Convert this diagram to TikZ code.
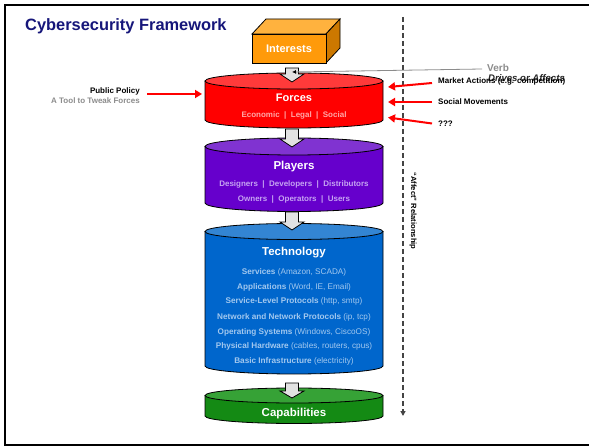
\documentclass[tikz,border=0pt]{standalone}
\usepackage{fontspec}
\setmainfont{Liberation Sans}
\usetikzlibrary{arrows.meta}

\definecolor{navy}{HTML}{16167A}
\definecolor{orfront}{HTML}{FF9A0A}
\definecolor{ortop}{HTML}{FFB23E}
\definecolor{orside}{HTML}{CC7800}
\definecolor{fbody}{HTML}{FF0000}
\definecolor{ftop}{HTML}{FF3A3A}
\definecolor{ftext}{HTML}{FFA8A8}
\definecolor{pbody}{HTML}{6600CC}
\definecolor{ptop}{HTML}{8033D1}
\definecolor{ptext}{HTML}{C6A4F2}
\definecolor{tbody}{HTML}{0066CC}
\definecolor{ttop}{HTML}{3385D3}
\definecolor{ttext}{HTML}{A2C8EF}
\definecolor{cbody}{HTML}{148A14}
\definecolor{ctop}{HTML}{36A236}
\definecolor{dashgrey}{HTML}{444444}
\definecolor{verbgrey}{HTML}{8C8C8C}
\definecolor{blockfill}{HTML}{E2E2E2}

% cylinder: #1 centre x, #2 top-ellipse y, #3 bottom-ellipse y, #4 x radius, #5 y radius, #6 body, #7 top
\newcommand\drumlayer[7]{%
  \fill[#6] (#1-#4,#2) -- (#1-#4,#3)
     arc[start angle=180,end angle=0,x radius=#4,y radius=#5] -- (#1+#4,#2) -- cycle;
  \draw[outline] (#1-#4,#2) -- (#1-#4,#3)
     arc[start angle=180,end angle=0,x radius=#4,y radius=#5] -- (#1+#4,#2);
  \filldraw[outline,fill=#7] (#1,#2) ellipse[x radius=#4,y radius=#5];
}
% block arrow: #1 centre x, #2 shaft top, #3 head y, #4 tip y
\newcommand\blockarrow[4]{%
  \filldraw[outline,fill=blockfill]
    (#1-6.5,#2) -- (#1+6.5,#2) -- (#1+6.5,#3) -- (#1+12,#3) -- (#1,#4)
    -- (#1-12,#3) -- (#1-6.5,#3) -- cycle;
}

\tikzset{
  outline/.style={draw=black,line width=0.8pt},
  redarrow/.style={draw=red,line width=2pt,-{Triangle[length=7pt,width=8pt]}},
  sidelabel/.style={font=\fontsize{8}{9}\selectfont\bfseries,inner sep=0pt},
  layertitle/.style={font=\fontsize{11.5}{13}\selectfont\bfseries,text=white,inner sep=0pt},
  layersub/.style={font=\fontsize{8}{9}\selectfont\bfseries,inner sep=0pt},
  techline/.style={font=\fontsize{8.2}{9}\selectfont,text=ttext,inner sep=0pt},
}

\begin{document}
\begin{tikzpicture}[x=1pt,y=-1pt]
\useasboundingbox (0,0) rectangle (589,446);
\fill[white] (0,0) rectangle (589,446);

% frame
\draw[line width=2pt] (600,5) -- (5,5) -- (5,445) -- (600,445);

% title
\node[anchor=west,font=\fontsize{16.4}{18}\selectfont\bfseries,text=navy,inner sep=0pt]
  (title) at (25,26) {Cybersecurity Framework};

% interests box
\fill[ortop,draw=black,line width=0.8pt] (252,34) -- (266,19) -- (340,19) -- (326,34) -- cycle;
\fill[orside,draw=black,line width=0.8pt] (326,34) -- (340,19) -- (340,48) -- (326,63) -- cycle;
\fill[orfront,draw=black,line width=0.8pt] (252,34) rectangle (326,63);
\node[layertitle,font=\fontsize{11}{13}\selectfont\bfseries] (interests) at (289,48.5) {Interests};

% dashed "affect" axis
\coordinate (axtop) at (403,17);
\coordinate (axbot) at (403,416);
\draw[dashgrey,line width=1.5pt,dash pattern=on 5pt off 3pt,-{Triangle[length=5pt,width=5pt]}] (axtop) -- (axbot);
\node[rotate=-90,font=\fontsize{7.6}{9}\selectfont\bfseries,inner sep=0pt] (affect) at (413,211)
  {``Affect'' Relationship};

% layers
\drumlayer{294}{81}{120}{89}{8}{fbody}{ftop}
\drumlayer{294}{146.5}{203}{89}{8.5}{pbody}{ptop}
\drumlayer{294}{231.5}{366}{89}{8}{tbody}{ttop}
\drumlayer{294}{395.5}{416}{89}{7.5}{cbody}{ctop}

% layer texts
\node[layertitle,font=\fontsize{11}{13}\selectfont\bfseries] (forces) at (294,98) {Forces};
\node[layersub,text=ftext] (forcesub) at (294,115) {Economic \ | \ Legal \ | \ Social};

\node[layertitle] (players) at (294,167) {Players};
\node[layersub,text=ptext] (playersub1) at (294,184) {Designers \ | \ Developers \ | \ Distributors};
\node[layersub,text=ptext] (playersub2) at (294,199) {Owners \ | \ Operators \ | \ Users};

\node[layertitle] (technology) at (294,253) {Technology};
\node[techline] (t1) at (294,272.3) {\textbf{Services} (Amazon, SCADA)};
\node[techline] (t2) at (294,287) {\textbf{Applications} (Word, IE, Email)};
\node[techline] (t3) at (294,301.7) {\textbf{Service-Level Protocols} (http, smtp)};
\node[techline] (t4) at (294,317) {\textbf{Network and Network Protocols} (ip, tcp)};
\node[techline] (t5) at (294,332) {\textbf{Operating Systems} (Windows, CiscoOS)};
\node[techline] (t6) at (294,346.7) {\textbf{Physical Hardware} (cables, routers, cpus)};
\node[techline] (t7) at (294,361) {\textbf{Basic Infrastructure} (electricity)};

\node[layertitle] (capabilities) at (294,414) {Capabilities};

% block arrows between layers
\blockarrow{292}{68}{74}{82}
\blockarrow{292}{129}{139}{147}
\blockarrow{292}{212}{222}{230}
\blockarrow{292}{383}{391}{398}

% verb annotation
\coordinate (verbend) at (292,72);
\node[anchor=west,font=\fontsize{10}{12}\selectfont\bfseries,text=verbgrey,inner sep=0pt] (verb) at (487,67.5) {Verb};
\draw[verbgrey,line width=0.8pt,-{Latex[length=4pt,width=4pt,black]}] (482,69) -- (verbend);
\node[anchor=west,font=\fontsize{9.6}{11}\selectfont\bfseries\itshape,text=black!85,inner sep=0pt] (drives) at (488,78.5) {Drives or Affects};

% external influences
\node[sidelabel,anchor=west] (market) at (438,81) {Market Actions (e.g. competition)};
\node[sidelabel,anchor=west] (social) at (438,101.5) {Social Movements};
\node[sidelabel,anchor=west] (unknown) at (438,124) {???};
\coordinate (fr1) at (388,87);
\coordinate (fr2) at (388,102);
\coordinate (fr3) at (388,117.5);
\draw[redarrow] (432,83) -- (fr1);
\draw[redarrow] (432,102) -- (fr2);
\draw[redarrow] (432,123.5) -- (fr3);

% public policy
\node[sidelabel,anchor=east] (policy) at (140,91) {Public Policy};
\node[sidelabel,anchor=east,text=verbgrey] (policysub) at (140,101) {A Tool to Tweak Forces};
\coordinate (fl) at (202,94);
\draw[redarrow] (147,94) -- (fl);
\end{tikzpicture}
\end{document}
